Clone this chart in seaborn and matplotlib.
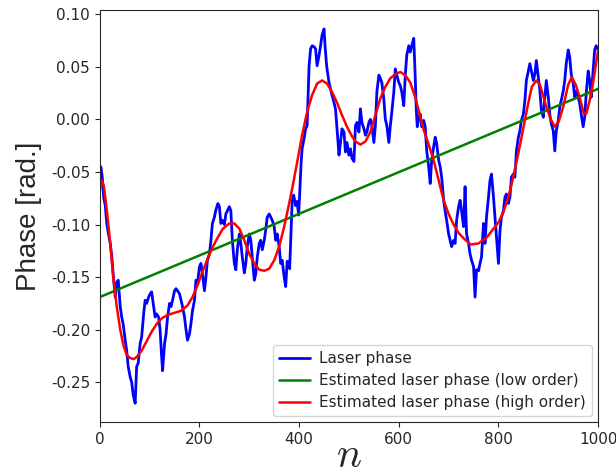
import numpy as np
import pandas as pd
import matplotlib
matplotlib.use("Agg")
import matplotlib.pyplot as plt
import seaborn as sns

n_laser = [
    0, 2, 5, 8, 11, 14, 17, 21, 24, 27, 31, 34, 37, 41, 44, 47, 51, 54, 57, 61,
    64, 67, 71, 74, 77, 81, 84, 88, 91, 94, 98, 101, 104, 108, 111, 114, 118, 121, 124,
    126, 130, 133, 136, 140, 143, 146, 150, 153, 156, 160, 163, 166, 170, 173, 176,
    180, 183, 186, 190, 193, 196, 200, 203, 206, 210, 213, 216, 220, 223, 226, 230,
    233, 237, 240, 243, 246, 250, 253, 256, 260, 263, 266, 270, 273, 276, 280, 283,
    286, 290, 293, 296, 300, 303, 306, 310, 313, 316, 320, 323, 326, 330, 333, 336,
    340, 343, 346, 350, 353, 356, 360, 363, 366, 370, 373, 376, 379, 381, 384, 386,
    389, 393, 396, 399, 401, 404, 406, 410, 413, 416, 420, 423, 426, 430, 433, 436,
    440, 443, 446, 450, 452, 455, 456, 460, 463, 466, 470, 473, 476, 480, 483, 486,
    490, 493, 496, 500, 503, 506, 510, 513, 516, 520, 523, 526, 530, 533, 536, 540,
    543, 546, 550, 553, 556, 560, 563, 566, 570, 573, 576, 580, 583, 586, 590, 593,
    596, 600, 603, 606, 610, 613, 616, 620, 623, 626, 630, 633, 635, 637, 640, 643,
    646, 650, 653, 656, 660, 663, 666, 670, 673, 676, 680, 683, 686, 690, 693, 696,
    700, 703, 706, 710, 713, 716, 720, 723, 726, 730, 733, 736, 740, 743, 746, 750,
    753, 756, 760, 763, 766, 770, 773, 776, 780, 783, 786, 790, 793, 796, 800, 803,
    806, 810, 813, 816, 820, 823, 826, 830, 833, 836, 840, 843, 846, 850, 853, 856,
    860, 863, 866, 870, 873, 876, 880, 883, 886, 890, 893, 896, 900, 903, 906, 910,
    913, 916, 920, 923, 926, 930, 933, 936, 940, 943, 946, 950, 953, 956, 960, 963,
    966, 970, 973, 976, 980, 983, 986, 990, 993, 996, 1000,
]
phase_laser = [
    -0.063, -0.045, -0.055, -0.075, -0.082, -0.099, -0.108, -0.118, -0.130, -0.148,
    -0.169, -0.155, -0.153, -0.178, -0.188, -0.195, -0.210, -0.220, -0.235, -0.245,
    -0.250, -0.262, -0.270, -0.235, -0.232, -0.213, -0.207, -0.185, -0.172, -0.175,
    -0.169, -0.166, -0.164, -0.178, -0.188, -0.185, -0.188, -0.200, -0.225,
    -0.239, -0.213, -0.204, -0.188, -0.175, -0.178, -0.172, -0.163, -0.161, -0.163,
    -0.166, -0.172, -0.178, -0.188, -0.200, -0.210, -0.204, -0.194, -0.182, -0.172,
    -0.153, -0.156, -0.140, -0.137, -0.147, -0.163, -0.150, -0.134, -0.128, -0.115,
    -0.099, -0.093, -0.086, -0.080, -0.083, -0.099, -0.096, -0.100, -0.090, -0.087,
    -0.083, -0.087, -0.115, -0.137, -0.143, -0.124, -0.109, -0.118, -0.131, -0.146,
    -0.137, -0.121, -0.109, -0.115, -0.131, -0.153, -0.147, -0.131, -0.118, -0.115,
    -0.124, -0.115, -0.105, -0.093, -0.090, -0.093, -0.096, -0.102, -0.115, -0.109,
    -0.121, -0.137, -0.134, -0.150, -0.159, -0.135, -0.135, -0.142, -0.104, -0.078,
    -0.072, -0.082, -0.078, -0.091, -0.072, -0.041, -0.028, -0.018, -0.009, -0.006,
    0.051, 0.067, 0.070, 0.069, 0.067, 0.051, 0.061, 0.070, 0.080, 0.086, 0.070,
    0.052, 0.048, 0.035, 0.029, 0.023, 0.016, 0.010, -0.009, -0.034, -0.022, -0.009,
    -0.012, -0.031, -0.022, -0.034, -0.028, -0.037, -0.040, -0.006, -0.003, -0.012,
    0.010, -0.003, -0.009, -0.015, -0.012, -0.003, 0.000, -0.006, -0.022, -0.006,
    0.026, 0.042, 0.039, 0.035, 0.019, 0.000, -0.006, -0.022, -0.006, 0.007, 0.026,
    0.048, 0.042, 0.035, 0.032, 0.026, 0.013, 0.042, 0.061, 0.070, 0.064, 0.070,
    0.077, 0.040, 0.010, -0.007, 0.002, 0.005, -0.007, -0.001, -0.007, -0.030,
    -0.045, -0.061, -0.039, -0.026, -0.017, -0.023, -0.039, -0.045, -0.055, -0.077,
    -0.087, -0.096, -0.109, -0.115, -0.121, -0.115, -0.118, -0.096, -0.083, -0.077,
    -0.087, -0.102, -0.064, -0.109, -0.118, -0.128, -0.134, -0.140, -0.169, -0.143,
    -0.144, -0.137, -0.131, -0.099, -0.118, -0.093, -0.074, -0.058, -0.052, -0.074,
    -0.093, -0.112, -0.137, -0.106, -0.093, -0.087, -0.074, -0.071, -0.080, -0.074,
    -0.055, -0.052, -0.055, -0.030, -0.017, -0.011, -0.001, 0.005, 0.018, 0.037,
    0.046, 0.053, 0.046, 0.037, 0.043, 0.056, 0.040, 0.028, 0.009, 0.002, 0.021,
    0.037, 0.021, 0.005, -0.004, -0.011, -0.030, -0.011, -0.001, 0.012, 0.018,
    0.027, 0.037, 0.053, 0.066, 0.059, 0.043, 0.034, 0.021, 0.027, 0.021, 0.015,
    0.005, -0.007, 0.002, 0.024, 0.046, 0.037, 0.021, 0.046, 0.066, 0.070, 0.066,
]

# low order estimate (straight line)
n_low = [0, 1000]
phase_low = [-0.169, 0.029]

# high order estimate
n_high = [
    0, 4, 8, 14, 21, 27, 34, 41, 48, 54, 61, 68, 74, 84, 94, 104, 115, 125, 136, 150,
    163, 176, 186, 196, 206, 216, 226, 237, 247, 260, 270, 280, 290, 300, 310, 320,
    330, 340, 350, 360, 370, 380, 386, 396, 406, 416, 426, 436, 446, 456, 466, 476,
    486, 496, 506, 513, 523, 533, 543, 553, 563, 573, 583, 593, 603, 613, 623, 633,
    640, 650, 660, 670, 680, 690, 700, 710, 720, 730, 744, 760, 777, 790, 800, 810,
    820, 830, 840, 850, 860, 867, 876, 883, 890, 896, 905, 913, 921, 930, 940, 947,
    955, 963, 971, 976, 983, 990, 1000,
]
phase_high = [
    -0.068, -0.058, -0.063, -0.086, -0.118, -0.150, -0.178, -0.200, -0.216, -0.224,
    -0.227, -0.228, -0.226, -0.220, -0.211, -0.202, -0.194, -0.189, -0.186, -0.184,
    -0.182, -0.177, -0.169, -0.158, -0.145, -0.133, -0.122, -0.112, -0.104, -0.099,
    -0.099, -0.104, -0.115, -0.128, -0.137, -0.143, -0.144, -0.142, -0.134, -0.121,
    -0.102, -0.080, -0.066, -0.041, -0.015, 0.007, 0.023, 0.034, 0.037, 0.034,
    0.026, 0.016, 0.004, -0.007, -0.016, -0.021, -0.024, -0.021, -0.012, 0.004,
    0.020, 0.031, 0.039, 0.043, 0.045, 0.042, 0.035, 0.021, 0.008, -0.010,
    -0.024, -0.039, -0.058, -0.077, -0.090, -0.100, -0.108, -0.113, -0.119, -0.118,
    -0.112, -0.104, -0.098, -0.088, -0.074, -0.054, -0.032, -0.008, 0.016, 0.031,
    0.037, 0.033, 0.022, 0.012, 0.000, -0.007, -0.002, 0.012, 0.033, 0.040,
    0.033, 0.021, 0.006, 0.005, 0.018, 0.035, 0.066,
]

Y_TICKS = [-0.25, -0.20, -0.15, -0.10, -0.05, 0.00, 0.05, 0.10]

sns.set_style("ticks")
plt.rcParams["axes.unicode_minus"] = False
plt.rcParams["mathtext.fontset"] = "cm"

fig, ax = plt.subplots(figsize=(6.16, 4.76), dpi=100)
fig.subplots_adjust(left=0.162, right=0.971, top=0.979, bottom=0.113)

df_laser = pd.DataFrame({"n": n_laser, "phase": phase_laser})
df_low = pd.DataFrame({"n": n_low, "phase": phase_low})
df_high = pd.DataFrame({"n": n_high, "phase": phase_high})

sns.lineplot(data=df_laser, x="n", y="phase", color="blue", linewidth=2.0,
             label="Laser phase", ax=ax, sort=False)
sns.lineplot(data=df_low, x="n", y="phase", color="green", linewidth=1.8,
             label="Estimated laser phase (low order)", ax=ax)
sns.lineplot(data=df_high, x="n", y="phase", color="red", linewidth=1.8,
             label="Estimated laser phase (high order)", ax=ax)

ax.set_xlim(0, 1000)
ax.set_ylim(-0.288, 0.104)
ax.set_xticks([0, 200, 400, 600, 800, 1000])
ax.set_yticks(Y_TICKS)
ax.set_yticklabels([f"{v:.2f}" for v in Y_TICKS])
ax.tick_params(labelsize=11, colors=".15")
ax.set_xlabel("$n$", fontsize=30, labelpad=-9)
ax.set_ylabel("Phase [rad.]", fontsize=20, family="Liberation Sans", labelpad=6)
ax.legend(loc="lower right", fontsize=11, handlelength=2.0, handletextpad=0.6,
          borderaxespad=0.4, labelspacing=0.45)

fig.savefig("out.png", dpi=100)
